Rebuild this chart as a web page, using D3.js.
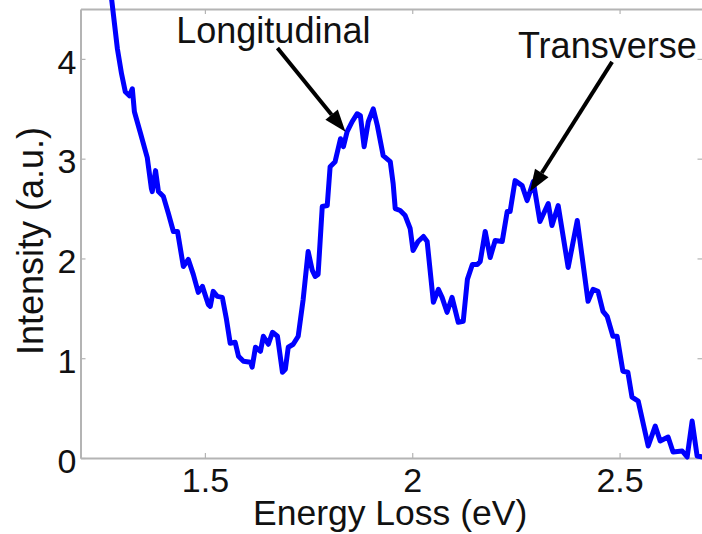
<!DOCTYPE html>
<html>
<head>
<meta charset="utf-8">
<script src="https://cdn.jsdelivr.net/npm/d3@7"></script>
<style>
  html, body { margin: 0; padding: 0; background: #fff; }
  svg { display: block; }
  text { font-family: "Liberation Sans", Arial, Helvetica, sans-serif; fill: #111; }
</style>
</head>
<body>
<svg id="chart" width="702" height="534"></svg>
<script>
// ---- data ----
const energy = [1.275,1.289,1.299,1.308,1.318,1.325,1.330,1.345,1.361,1.371,1.373,1.381,1.388,1.400,1.412,1.424,1.434,1.448,1.460,1.472,1.484,1.494,1.508,1.513,1.520,1.530,1.542,1.552,1.561,1.573,1.581,1.593,1.610,1.614,1.622,1.634,1.641,1.653,1.663,1.675,1.687,1.694,1.701,1.713,1.725,1.737,1.749,1.759,1.766,1.773,1.783,1.795,1.802,1.814,1.827,1.834,1.843,1.855,1.867,1.875,1.884,1.894,1.906,1.916,1.930,1.947,1.954,1.959,1.971,1.983,1.995,2.002,2.014,2.027,2.036,2.051,2.063,2.072,2.084,2.096,2.111,2.123,2.133,2.145,2.157,2.164,2.176,2.188,2.200,2.217,2.229,2.236,2.248,2.265,2.277,2.292,2.308,2.328,2.337,2.352,2.376,2.398,2.424,2.436,2.448,2.460,2.470,2.484,2.494,2.508,2.520,2.530,2.545,2.569,2.586,2.598,2.617,2.629,2.651,2.663,2.675,2.687,2.700];
const intensity = [4.60,4.10,3.85,3.67,3.63,3.70,3.47,3.25,3.01,2.70,2.67,2.88,2.67,2.62,2.45,2.27,2.27,1.92,1.99,1.84,1.66,1.72,1.54,1.52,1.67,1.62,1.61,1.39,1.15,1.16,1.02,0.97,0.96,0.91,1.11,1.07,1.22,1.14,1.26,1.22,0.86,0.89,1.11,1.14,1.22,1.59,2.07,1.88,1.82,1.84,2.52,2.53,2.92,2.97,3.20,3.12,3.27,3.37,3.45,3.43,3.12,3.37,3.50,3.33,3.03,2.97,2.75,2.50,2.48,2.43,2.30,2.08,2.17,2.22,2.17,1.56,1.69,1.61,1.46,1.61,1.36,1.37,1.79,1.94,1.94,1.97,2.27,2.01,2.18,2.17,2.47,2.47,2.78,2.73,2.58,2.77,2.37,2.55,2.33,2.53,1.91,2.38,1.57,1.69,1.67,1.47,1.42,1.22,1.22,0.87,0.86,0.61,0.57,0.12,0.32,0.17,0.21,0.06,0.07,0.01,0.37,0.02,0.01];
const xTicks = [1.5, 2, 2.5];
const yTicks = [0, 1, 2, 3, 4];
const xLabel = "Energy Loss (eV)";
const yLabel = "Intensity (a.u.)";
// annotations: text position and arrow from/to in data units
const annoLabels = ["Longitudinal", "Transverse"];
const annoTextX = [1.431, 2.255];
const annoTextY = [4.16, 4.01];
const annoFromX = [1.675, 2.482];
const annoFromY = [4.11, 3.97];
const annoToX = [1.839, 2.284];
const annoToY = [3.27, 2.67];

// ---- layout ----
const svg = d3.select("#chart");
const mLeft = 80.5, mRight = 702.5, mTop = 9, mBottom = 458;
const x = d3.scaleLinear().domain([1.2, 2.7]).range([mLeft, mRight]);
const y = d3.scaleLinear().domain([0, 4.5]).range([mBottom, mTop]);
const axisColor = "#b4b4b4";
const tickFont = 34;

function styleAxis(g) {
  g.select(".domain").attr("stroke", axisColor).attr("stroke-width", 2);
  g.selectAll(".tick line").attr("stroke", axisColor).attr("stroke-width", 1.2);
  g.selectAll(".tick text").attr("font-size", tickFont)
    .attr("font-family", '"Liberation Sans", Arial, sans-serif').attr("fill", "#111");
}

// top & right box axes (no labels)
svg.append("g").attr("transform", `translate(0,${mTop})`)
  .call(d3.axisTop(x).tickValues(xTicks).tickSizeInner(-5).tickSizeOuter(0).tickFormat(""))
  .call(styleAxis);
svg.append("g").attr("transform", `translate(${mRight},0)`)
  .call(d3.axisRight(y).tickValues(yTicks).tickSizeInner(-5).tickSizeOuter(0).tickFormat(""))
  .call(styleAxis);

// bottom axis
const gx = svg.append("g").attr("transform", `translate(0,${mBottom})`)
  .call(d3.axisBottom(x).tickValues(xTicks).tickSizeInner(-5).tickSizeOuter(0).tickPadding(10).tickFormat(d3.format("")))
  .call(styleAxis);

// left axis
const gy = svg.append("g").attr("transform", `translate(${mLeft},0)`)
  .call(d3.axisLeft(y).tickValues(yTicks).tickSizeInner(-5).tickSizeOuter(0).tickPadding(4).tickFormat(d3.format("")))
  .call(styleAxis);
gy.selectAll(".tick text").attr("dy", "0.42em");

// axis titles
svg.append("text").attr("x", 253).attr("y", 525)
  .attr("font-size", 35.5).text(xLabel);
svg.append("text").attr("transform", "translate(43,241) rotate(-90)")
  .attr("text-anchor", "middle").attr("font-size", 36).text(yLabel);

// data line
const line = d3.line().x((d, i) => x(energy[i])).y((d, i) => y(intensity[i]));
svg.append("path").datum(intensity)
  .attr("fill", "none").attr("stroke", "#0000ff").attr("stroke-width", 5)
  .attr("stroke-linejoin", "round").attr("stroke-linecap", "butt")
  .attr("d", line);

// annotations
const fontSizes = [36, 36];
annoLabels.forEach((lab, i) => {
  svg.append("text").attr("x", x(annoTextX[i])).attr("y", y(annoTextY[i]))
    .attr("font-size", fontSizes[i]).text(lab);
  const x1 = x(annoFromX[i]), y1 = y(annoFromY[i]);
  const x2 = x(annoToX[i]), y2 = y(annoToY[i]);
  const ang = Math.atan2(y2 - y1, x2 - x1);
  const hl = 22, hw = 8;
  const bx = x2 - hl * Math.cos(ang), by = y2 - hl * Math.sin(ang);
  svg.append("line").attr("x1", x1).attr("y1", y1).attr("x2", bx).attr("y2", by)
    .attr("stroke", "#000").attr("stroke-width", 4);
  const px = -Math.sin(ang), py = Math.cos(ang);
  svg.append("polygon")
    .attr("points", [[x2, y2], [bx + hw * px, by + hw * py], [bx - hw * px, by - hw * py]].map(p => p.join(",")).join(" "))
    .attr("fill", "#000");
});
</script>
</body>
</html>
